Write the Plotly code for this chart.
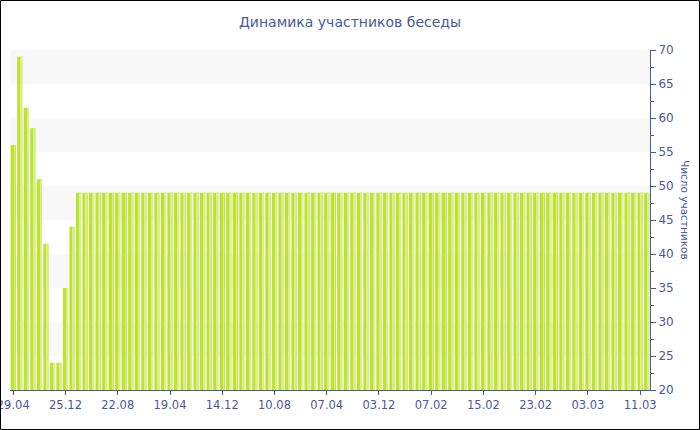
import plotly.graph_objects as go

# ---- data ----
head_values = [56, 69, 61.5, 58.5, 51, 41.5, 24, 24, 35, 44]
steady_value = 49
n_steady = 88
values = head_values + [steady_value] * n_steady
categories = list(range(len(values)))
tick_labels = ["29.04", "25.12", "22.08", "19.04", "14.12", "10.08", "07.04",
               "03.12", "07.02", "15.02", "23.02", "03.03", "11.03"]
tick_step = 8
tick_positions = categories[::tick_step][:len(tick_labels)]

title_text = "Динамика участников беседы"
y_title = "Число участников"

# ---- style ----
axis_color = "#4a5a9c"
text_color = "#4a5a9c"
bar_color = "#bde22f"
stripe_color = "#d9ee8c"
band_color = "#f8f8f8"
font_family = "DejaVu Sans, Verdana, sans-serif"

fig = go.Figure()
fig.add_trace(go.Bar(x=categories, y=values, marker_color=bar_color,
                     marker_line_width=0, width=0.8, hoverinfo="y"))
fig.add_trace(go.Bar(x=categories, y=values, marker_color=stripe_color,
                     marker_line_width=0, width=0.14, offset=0.12,
                     hoverinfo="skip"))

# alternating background bands
for lo in range(25, 70, 10):
    fig.add_shape(type="rect", xref="paper", yref="y", x0=0, x1=1, y0=lo, y1=lo + 5,
                  fillcolor=band_color, line_width=0, layer="below")

# outer border of the whole image
W, H = 700, 430
ml, mr, mt, mb = 10, 50, 50, 40
pw, ph = W - ml - mr, H - mt - mb
fig.add_shape(type="rect", xref="paper", yref="paper",
              x0=(-ml + 0.5) / pw, x1=(W - ml - 0.5) / pw,
              y0=(-mb + 0.5) / ph, y1=(H - mb - 0.5) / ph,
              line=dict(color="black", width=1), fillcolor="rgba(0,0,0,0)")

fig.add_annotation(text=y_title, xref="paper", yref="paper",
                   x=(685 - ml) / pw, y=(H - 210 - mb) / ph, showarrow=False,
                   xanchor="center", yanchor="middle",
                   textangle=90, font=dict(size=10.5, color=text_color, family=font_family))

fig.update_layout(
    width=W, height=H,
    margin=dict(l=ml, r=mr, t=mt, b=mb, autoexpand=False),
    paper_bgcolor="white", plot_bgcolor="white",
    barmode="overlay", showlegend=False,
    title=dict(text=title_text, x=0.5, xref="container", xanchor="center",
               y=1 - 22 / H, yref="container", yanchor="middle",
               font=dict(size=14, color=text_color, family=font_family)),
    font=dict(family=font_family, color=text_color, size=12),
    xaxis=dict(type="linear", range=[-0.5, len(values) - 0.5], automargin=False,
               tickmode="array", tickvals=tick_positions, ticktext=tick_labels,
               ticklabeloverflow="allow",
               showgrid=False, zeroline=False, showline=True, linecolor=axis_color,
               linewidth=1, ticks="outside", ticklen=4, tickcolor=axis_color,
               tickfont=dict(size=11.5, color=text_color)),
    yaxis=dict(side="right", range=[20, 70], dtick=5, tick0=20, automargin=False,
               showgrid=False, zeroline=False, showline=True, linecolor=axis_color,
               linewidth=1, ticks="outside", ticklen=5, tickcolor=axis_color,
               tickfont=dict(size=12, color=text_color),
               minor=dict(dtick=2.5, ticks="outside", ticklen=3, tickcolor=axis_color,
                          showgrid=False)),
)

fig.write_html("out.html", config={"displayModeBar": False},
               post_script="document.body.style.margin='0';document.body.style.padding='0';")
